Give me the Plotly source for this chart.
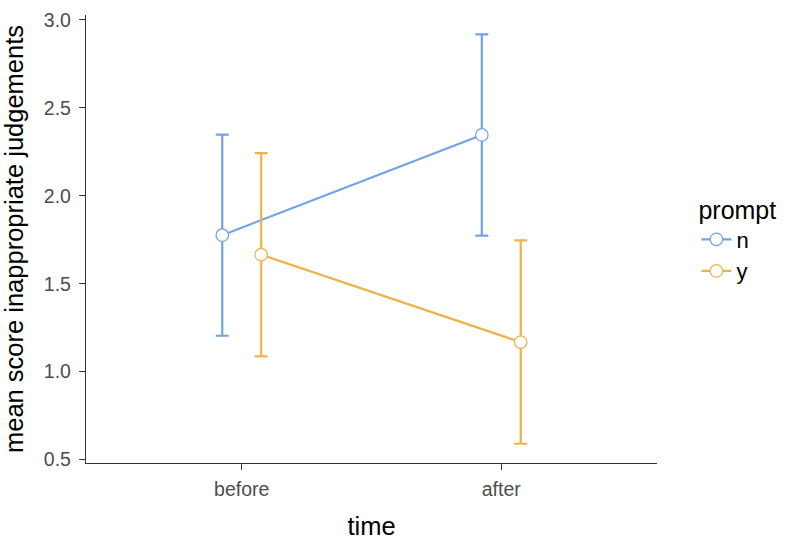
import plotly.graph_objects as go

# Data
times = ["before", "after"]
prompts = ["n", "y"]
means_n = [1.776, 2.346]
means_y = [1.665, 1.168]
err_n = [0.572, 0.572]
err_y = [0.578, 0.578]
colors = {"n": "#72A2EC", "y": "#EDB348"}
dodge = {"n": -0.075, "y": 0.075}

fig = go.Figure()
for p, means, errs in [("n", means_n, err_n), ("y", means_y, err_y)]:
    xs = [i + 1 + dodge[p] for i in range(len(times))]
    fig.add_trace(go.Scatter(
        x=xs, y=means, name=p, mode="lines+markers",
        line=dict(color=colors[p], width=2.2),
        marker=dict(size=12.5, color="white", line=dict(color=colors[p], width=1.2)),
        error_y=dict(type="data", array=errs, visible=True, color=colors[p],
                     thickness=2.2, width=6.5),
    ))

font_family = "Liberation Sans, Arial, Helvetica, sans-serif"
fig.update_layout(
    width=787, height=544,
    margin=dict(l=86, r=128, t=9, b=79),
    paper_bgcolor="white", plot_bgcolor="white",
    font=dict(family=font_family, color="black"),
    showlegend=True,
    legend=dict(title=dict(text="prompt", font=dict(size=25)),
                font=dict(size=22), x=1.069, xanchor="left",
                y=0.5, yanchor="middle", tracegroupgap=0, itemwidth=30),
    xaxis=dict(range=[0.4, 2.6], tickvals=[1, 2], ticktext=times,
               showgrid=False, zeroline=False, showline=True,
               linecolor="#333333", linewidth=1.4,
               ticks="outside", ticklen=6, tickcolor="#333333", tickwidth=1.4,
               ticklabelstandoff=2,
               tickfont=dict(size=19.5, color="#4D4D4D"),
               title=dict(text="time", font=dict(size=25.5), standoff=18)),
    yaxis=dict(range=[0.4805, 3.028], tickvals=[0.5, 1.0, 1.5, 2.0, 2.5, 3.0],
               ticktext=["0.5", "1.0", "1.5", "2.0", "2.5", "3.0"],
               showgrid=False, zeroline=False, showline=True,
               linecolor="#333333", linewidth=1.4,
               ticks="outside", ticklen=6, tickcolor="#333333", tickwidth=1.4,
               ticklabelstandoff=4,
               tickfont=dict(size=19.5, color="#4D4D4D"),
               title=dict(text="mean score inappropriate judgements", font=dict(size=25.5), standoff=14)),
)
fig.write_html("out.html")
